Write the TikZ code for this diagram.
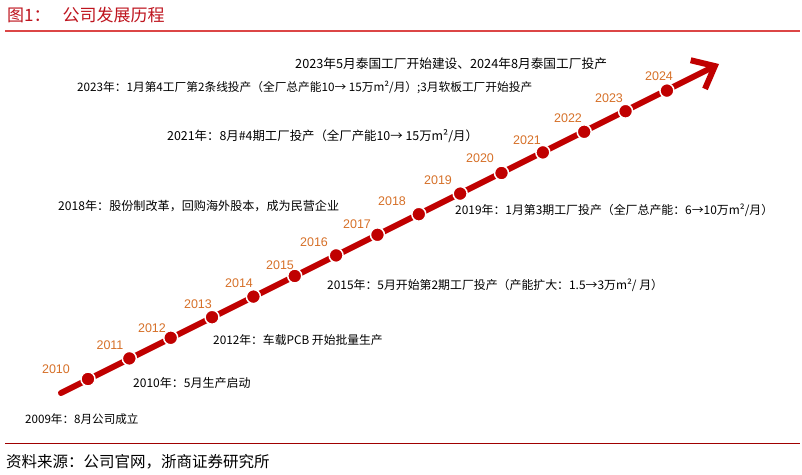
\documentclass[tikz,border=0pt]{standalone}
\usepackage{fontspec}
\setmainfont{Liberation Sans}
\newfontfamily\cjk{Noto Sans CJK SC}
\usetikzlibrary{arrows.meta}
\definecolor{linered}{RGB}{192,0,0}
\definecolor{yearor}{RGB}{214,112,40}
\definecolor{titlered}{RGB}{190,20,30}
\definecolor{rulered}{RGB}{220,70,70}
\definecolor{darkrule}{RGB}{160,0,0}
\begin{document}
\begin{tikzpicture}[x=1pt,y=-1pt,
  yr/.style={font=\fontsize{12.5}{14}\selectfont, text=yearor, inner sep=0pt},
  ann/.style={font=\cjk\fontsize{#1}{14}\selectfont, text=black, anchor=west, inner sep=0pt},
  ann/.default=12.2,
  dotnode/.style={circle, fill=linered, draw=white, line width=1.5pt, minimum size=14pt, inner sep=0pt},
  tline/.style={linered, line width=6pt, line cap=round, -{Straight Barb[length=19pt,width=32pt]}}
]
\useasboundingbox (0,0) rectangle (802,474);
% title
\node[anchor=west, inner sep=0pt, font=\cjk\fontsize{17}{20}\selectfont, text=titlered] (title) at (7,15) {图1：\hspace{12pt}公司发展历程};
\coordinate (tl1) at (5,31);
\coordinate (tl2) at (800,31);
\draw[rulered, line width=1.2pt] (tl1) -- (tl2);
% bottom
\coordinate (bl1) at (5,443);
\coordinate (bl2) at (800,443);
\draw[darkrule, line width=1pt] (bl1) -- (bl2);
\node[anchor=west, inner sep=0pt, font=\cjk\fontsize{15.5}{18}\selectfont, text=black] (src) at (6,462) {资料来源：公司官网，浙商证券研究所};
% timeline
\coordinate (s) at (61,393);
\coordinate (e) at (719,64);
\draw[tline] (s) -- (e);
\foreach \i in {0,...,14}{
  \pgfmathtruncatemacro{\yy}{2010+\i}
  \node[dotnode] (d\yy) at ({88+41.35*\i},{379-20.6*\i}) {};
}
% year labels
\foreach \yy/\px/\py in {2010/56/369,2011/110/345,2012/152/328,2013/198/304,2014/239/283,2015/280/265,2016/314/242,2017/357/224,2018/392/201,2019/438/180,2020/480/158,2021/527/140,2022/568/118,2023/609/98,2024/659/76}{
  \node[yr] (y\yy) at (\px,\py) {\yy};
}
% annotations
\node[ann=12.7] (a1) at (295,64) {2023年5月泰国工厂开始建设、2024年8月泰国工厂投产};
\node[ann=11.7] (a2) at (77,87) {2023年：1月第4工厂第2条线投产（全厂总产能10→ 15万m²/月）;3月软板工厂开始投产};
\node[ann=12.4] (a3) at (167,136) {2021年：8月\#4期工厂投产（全厂产能10→ 15万m²/月）};
\node[ann=12.1] (a4) at (58,206) {2018年：股份制改革，回购海外股本，成为民营企业};
\node[ann=11.9] (a5) at (455,210) {2019年：1月第3期工厂投产（全厂总产能：6→10万m²/月）};
\node[ann=11.9] (a6) at (327,285) {2015年：5月开始第2期工厂投产（产能扩大：1.5→3万m²/ 月）};
\node[ann=11.8] (a7) at (213,340) {2012年：车载PCB 开始批量生产};
\node[ann=12.0] (a8) at (133,383) {2010年：5月生产启动};
\node[ann=11.6] (a9) at (25,419) {2009年：8月公司成立};
\end{tikzpicture}
\end{document}
